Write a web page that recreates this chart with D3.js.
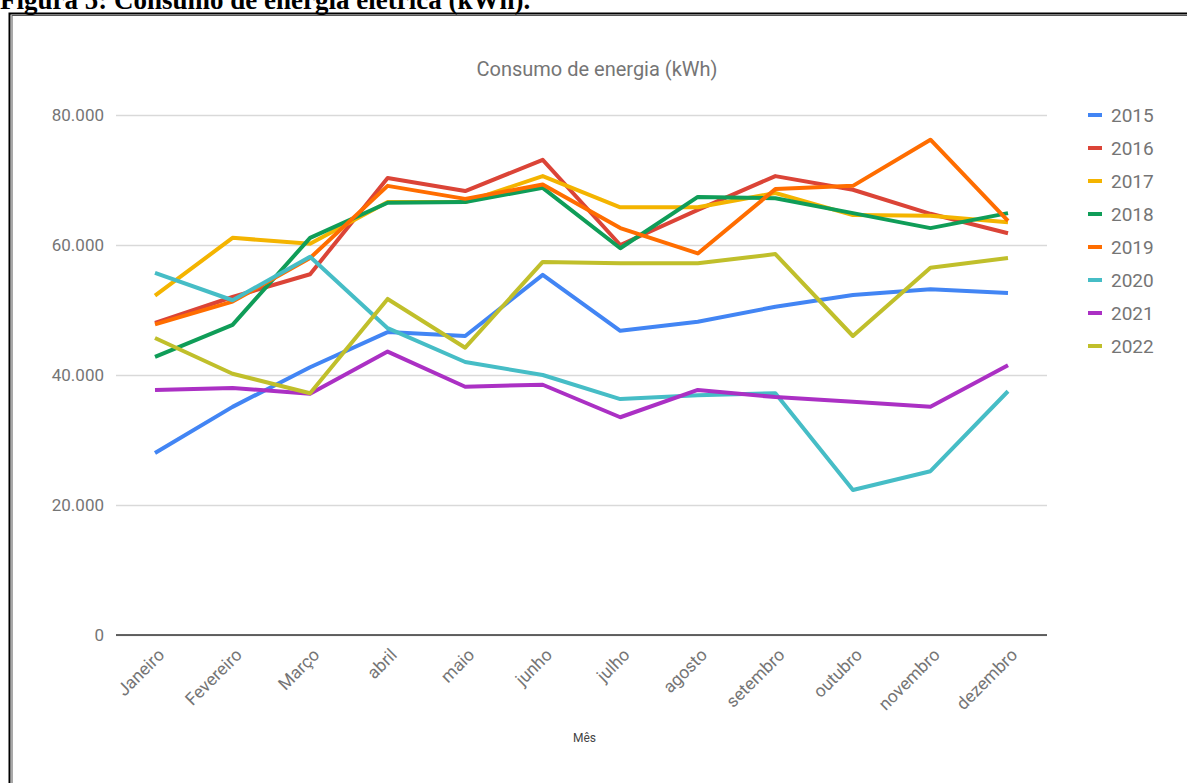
<!DOCTYPE html>
<html lang="pt">
<head>
  <meta charset="utf-8">
  <title>Consumo de energia</title>
  <style>
    body {
      margin: 0;
      background: #fff;
      overflow: hidden;
    }
    svg text {
      font-family: Roboto, Arial, sans-serif;
    }
  </style>
</head>
<body>
  <svg id="chart" width="1187" height="783"></svg>
  <script src="https://cdnjs.cloudflare.com/ajax/libs/d3/7.8.5/d3.min.js"></script>
  <script>
    //
    // Data
    //
    var months = ['Janeiro', 'Fevereiro', 'Março', 'abril', 'maio', 'junho', 'julho', 'agosto', 'setembro', 'outubro', 'novembro', 'dezembro']
    var years = ['2015', '2016', '2017', '2018', '2019', '2020', '2021', '2022']
    var colors = ['#4285f4', '#db4437', '#f4b400', '#0f9d58', '#ff6d00', '#46bdc6', '#ab30c4', '#c0bf2b']

    var v2015 = [28000, 35100, 41200, 46600, 46000, 55400, 46800, 48200, 50500, 52300, 53200, 52600]
    var v2016 = [48000, 52000, 55500, 70300, 68300, 73100, 60000, 65400, 70600, 68500, 64800, 61800]
    var v2017 = [52200, 61100, 60200, 66600, 66600, 70600, 65800, 65800, 68000, 64600, 64500, 63500]
    var v2018 = [42800, 47700, 61100, 66500, 66600, 68800, 59500, 67400, 67200, 64900, 62600, 64900]
    var v2019 = [47800, 51300, 58000, 69100, 67100, 69300, 62600, 58700, 68600, 69100, 76200, 63700]
    var v2020 = [55700, 51500, 58200, 47200, 42000, 40000, 36300, 36900, 37200, 22300, 25200, 37500]
    var v2021 = [37700, 38000, 37100, 43600, 38200, 38500, 33500, 37700, 36600, 35900, 35100, 41500]
    var v2022 = [45700, 40200, 37200, 51700, 44200, 57400, 57200, 57200, 58600, 46000, 56500, 58000]
    var seriesValues = [v2015, v2016, v2017, v2018, v2019, v2020, v2021, v2022]

    var yTicks = [0, 20000, 40000, 60000, 80000]

    //
    // Setup
    //
    var svg = d3.select('#chart')
    var plotLeft = 116, plotRight = 1047, plotTop = 115, plotBottom = 635

    var x = d3.scalePoint().domain(months).range([155, 1008])
    var y = d3.scaleLinear().domain([0, 80000]).range([plotBottom, plotTop])

    var fmt = function(d) {
      return d === 0 ? '0' : d3.format(',')(d).replace(/,/g, '.')
    }

    // caption and frame of the document page
    svg.append('text')
      .attr('x', 0).attr('y', 9)
      .style('font-family', '"Liberation Serif", "Times New Roman", serif')
      .style('font-weight', 'bold')
      .style('font-size', '27px')
      .attr('fill', '#000')
      .text('Figura 5: Consumo de energia elétrica (kWh).')

    svg.append('rect')
      .attr('x', 9.5).attr('y', 13.5).attr('width', 1200).attr('height', 800)
      .attr('fill', 'none').attr('stroke', '#000').attr('stroke-width', 2)
    svg.append('rect')
      .attr('x', 12).attr('y', 15.5).attr('width', 1200).attr('height', 800)
      .attr('fill', 'none').attr('stroke', '#555').attr('stroke-width', 1)

    // title
    svg.append('text')
      .attr('x', 597).attr('y', 76)
      .attr('text-anchor', 'middle')
      .style('font-size', '20px')
      .attr('fill', '#757575')
      .text('Consumo de energia (kWh)')

    // grid lines
    var yAxis = d3.axisLeft(y).tickValues(yTicks).tickFormat(fmt).tickSize(-(plotRight - plotLeft))
    var gy = svg.append('g').attr('transform', 'translate(' + plotLeft + ',0)').call(yAxis)
    gy.select('.domain').remove()
    gy.selectAll('.tick line').attr('stroke', '#d9d9d9').attr('stroke-width', 1.3)
    gy.selectAll('.tick text')
      .attr('x', -12)
      .style('font-size', '17px')
      .attr('fill', '#757575')

    // x axis
    var xAxis = d3.axisBottom(x).tickSize(0).tickPadding(0)
    var gx = svg.append('g').attr('transform', 'translate(0,' + plotBottom + ')').call(xAxis)
    gx.select('.domain').remove()
    gx.selectAll('.tick text')
      .attr('text-anchor', 'end')
      .attr('dy', 0)
      .attr('transform', 'translate(10,21) rotate(-45)')
      .style('font-size', '17.5px')
      .attr('fill', '#757575')

    svg.append('line')
      .attr('x1', plotLeft).attr('x2', plotRight)
      .attr('y1', plotBottom).attr('y2', plotBottom)
      .attr('stroke', '#333').attr('stroke-width', 1.3)

    svg.append('text')
      .attr('x', 573).attr('y', 742)
      .style('font-size', '12px')
      .attr('fill', '#444')
      .text('Mês')

    // lines
    var line = d3.line()
      .x(function(d, i) { return x(months[i]) })
      .y(function(d) { return y(d) })

    svg.append('g').selectAll('path')
      .data(seriesValues)
      .join('path')
      .attr('d', line)
      .attr('fill', 'none')
      .attr('stroke', function(d, i) { return colors[i] })
      .attr('stroke-width', 4)
      .attr('stroke-linejoin', 'round')

    // legend
    var legend = svg.append('g').selectAll('g')
      .data(years)
      .join('g')
      .attr('transform', function(d, i) { return 'translate(1088,' + (115 + i * 33) + ')' })
    legend.append('rect')
      .attr('x', 0).attr('y', -2).attr('width', 14).attr('height', 4)
      .attr('fill', function(d, i) { return colors[i] })
    legend.append('text')
      .attr('x', 23).attr('y', 7)
      .style('font-size', '19px')
      .attr('fill', '#757575')
      .text(function(d) { return d })
  </script>
</body>
</html>
